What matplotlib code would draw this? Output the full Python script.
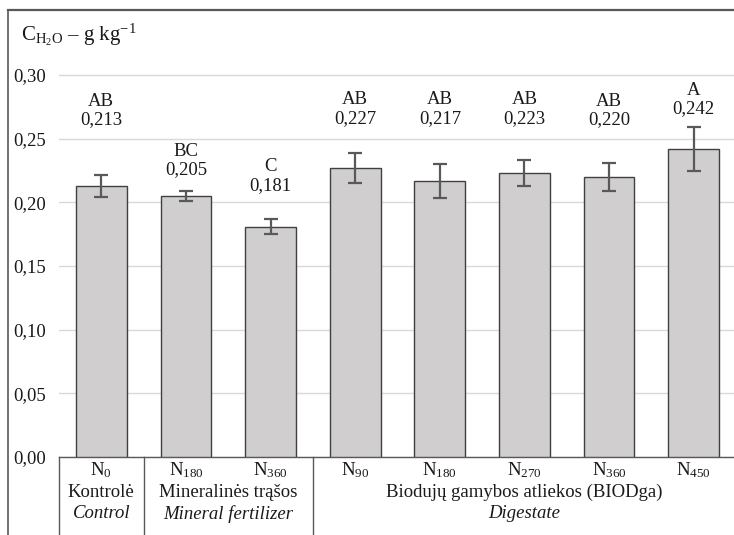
import matplotlib
matplotlib.use("Agg")
import matplotlib.pyplot as plt
from matplotlib.lines import Line2D

plt.rcParams["font.family"] = ["Liberation Serif", "DejaVu Serif"]
plt.rcParams["mathtext.fontset"] = "custom"
plt.rcParams["mathtext.rm"] = "Liberation Serif"
plt.rcParams["mathtext.it"] = "Liberation Serif:italic"

# water-soluble carbon, g/kg
doses = ["0", "180", "360", "90", "180", "270", "360", "450"]
means = [0.213, 0.205, 0.181, 0.227, 0.217, 0.223, 0.220, 0.242]
errors = [0.0085, 0.004, 0.006, 0.0115, 0.0135, 0.010, 0.011, 0.017]
letters = ["AB", "BC", "C", "AB", "AB", "AB", "AB", "A"]
groups = [
    ("Kontrolė", "Control", 0, 1),
    ("Mineralinės trąšos", "Mineral fertilizer", 1, 3),
    ("Biodujų gamybos atliekos (BIODga)", "Digestate", 3, 8),
]
yticks = [0.00, 0.05, 0.10, 0.15, 0.20, 0.25, 0.30]

W, H = 734, 535
fig = plt.figure(figsize=(W / 100, H / 100), dpi=100)

# axes box in pixels: left, right, top, bottom
left, right, top, bottom = 59, 736, 11.4, 457
ax = fig.add_axes([left / W, 1 - bottom / H, (right - left) / W, (bottom - top) / H])

edge = "#595959"
txt = "#1a1a1a"
fs = 13.5
x = list(range(len(means)))
ax.bar(x, means, width=0.6, color="#d0cece", edgecolor="#404040", linewidth=1.0, zorder=3)
ax.errorbar(x, means, yerr=errors, fmt="none", ecolor=edge, elinewidth=1.6,
            capsize=5, capthick=1.6, zorder=4)

# value labels sit where they were placed by hand, in data units
label_levels = [0.265, 0.2255, 0.2135, 0.266, 0.266, 0.266, 0.265, 0.2735]
for xi, m, lt, ly in zip(x, means, letters, label_levels):
    ax.text(xi, ly, f"{m:.3f}".replace(".", ","), ha="center", va="center",
            fontsize=fs, color=txt, zorder=5)
    ax.text(xi, ly + 0.0145, lt, ha="center", va="center",
            fontsize=fs, color=txt, zorder=5)

ax.set_xlim(-0.5, len(means) - 0.5)
ax.set_ylim(0, 0.35)
ax.set_yticks(yticks)
ax.set_yticklabels([f"{t:.2f}".replace(".", ",") for t in yticks], fontsize=fs,
                   color=txt)
ax.tick_params(axis="y", length=0, pad=9)
ax.set_xticks([])
ax.grid(axis="y", color="#d9d9d9", linewidth=1.0, zorder=0)
for side in ("top", "right", "left"):
    ax.spines[side].set_visible(False)
ax.spines["bottom"].set_color(edge)
ax.spines["bottom"].set_linewidth(1.0)

# outer frame (left and top) and the category table below the axis
def px_line(x0, y0, x1, y1, lw):
    fig.add_artist(Line2D([x0 / W, x1 / W], [1 - y0 / H, 1 - y1 / H],
                          color=edge, linewidth=lw))

px_line(8, 10, 8, H, 1.2)
px_line(8, 10, W, 10, 1.6)
step = (right - left) / len(means)
for _, _, g0, _ in groups:
    px_line(left + g0 * step, bottom, left + g0 * step, H, 1.0)

for xi, d in zip(x, doses):
    ax.text(xi, -0.0105, f"N$_{{{d}}}$", ha="center", va="center", fontsize=fs,
            color=txt, clip_on=False)

for lt_name, en_name, g0, g1 in groups:
    cx = (g0 + g1 - 1) / 2
    ax.text(cx, -0.0275, lt_name, ha="center", va="center", fontsize=fs,
            color=txt, clip_on=False)
    ax.text(cx, -0.0445, en_name, ha="center", va="center", fontsize=fs,
            style="italic", color=txt, clip_on=False)

fig.text(21 / W, 1 - 35 / H, r"C$_{\mathrm{H_2O}}$ – g kg$^{-1}$", ha="left",
         va="center", fontsize=15, color=txt)

fig.savefig("out.png", dpi=100)
